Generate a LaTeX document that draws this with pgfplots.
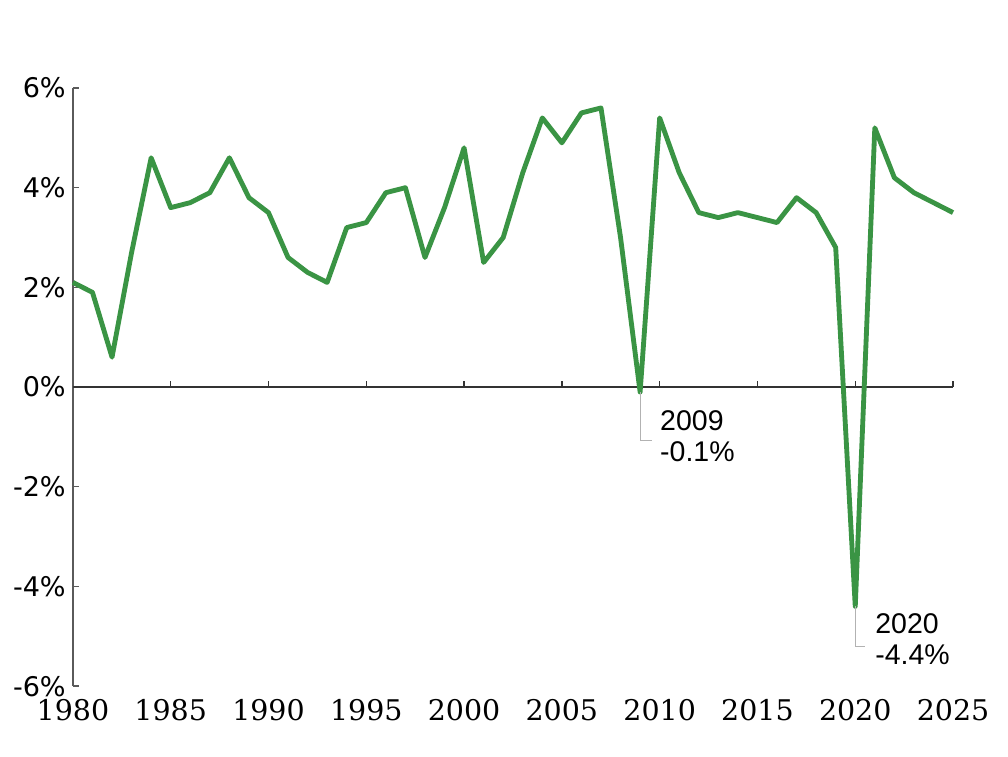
\documentclass[border=0pt]{standalone}
\usepackage{fontspec}
\setmainfont{DejaVu Serif}
\newfontfamily\ysans{DejaVu Sans}
\newfontfamily\annfont{Liberation Sans}
\usepackage{pgfplots}
\pgfplotsset{compat=1.18}
\definecolor{gdpgreen}{RGB}{58,148,68}
\definecolor{axisgray}{RGB}{90,90,90}

\begin{document}
\begin{tikzpicture}
\begin{axis}[
  name=main,
  scale only axis,
  width=309pt, height=210pt,
  xmin=1980, xmax=2025, ymin=-6, ymax=6,
  axis y line*=left,
  axis x line*=bottom,
  x axis line style={draw=none},
  y axis line style={axisgray, line width=0.5pt},
  xtick={1980,1985,...,2025},
  x tick style={draw=none},
  xticklabel style={font=\fontsize{10}{12}\selectfont, yshift=-1pt},
  ytick={-6,-4,...,6},
  yticklabels={-6\%,-4\%,-2\%,0\%,2\%,4\%,6\%},
  yticklabel style={font=\ysans\fontsize{9.5}{11}\selectfont, xshift=1pt},
  y tick style={axisgray, line width=0.5pt},
  tick align=inside, major tick length=2pt,
  /pgf/number format/assume math mode=true,
  /pgf/number format/1000 sep={},
  clip=false,
]
% zero line
\addplot[black!80, line width=0.7pt, mark=none, forget plot] coordinates {(1980,0) (2025,0)};

\addplot[gdpgreen, line width=1.7pt, line join=round, mark=none] coordinates {
  (1980,2.1) (1981,1.9) (1982,0.6) (1983,2.7) (1984,4.6)
  (1985,3.6) (1986,3.7) (1987,3.9) (1988,4.6) (1989,3.8)
  (1990,3.5) (1991,2.6) (1992,2.3) (1993,2.1) (1994,3.2)
  (1995,3.3) (1996,3.9) (1997,4.0) (1998,2.6) (1999,3.6)
  (2000,4.8) (2001,2.5) (2002,3.0) (2003,4.3) (2004,5.4)
  (2005,4.9) (2006,5.5) (2007,5.6) (2008,3.0) (2009,-0.1)
  (2010,5.4) (2011,4.3) (2012,3.5) (2013,3.4) (2014,3.5)
  (2015,3.4) (2016,3.3) (2017,3.8) (2018,3.5) (2019,2.8)
  (2020,-4.4) (2021,5.2) (2022,4.2) (2023,3.9) (2024,3.7)
  (2025,3.5)
};

% small ticks on the zero line
\draw[black!80, line width=0.5pt] (axis cs:1985,0) -- (axis cs:1985,0.12);
\draw[black!80, line width=0.5pt] (axis cs:1990,0) -- (axis cs:1990,0.12);
\draw[black!80, line width=0.5pt] (axis cs:1995,0) -- (axis cs:1995,0.12);
\draw[black!80, line width=0.5pt] (axis cs:2000,0) -- (axis cs:2000,0.12);
\draw[black!80, line width=0.5pt] (axis cs:2005,0) -- (axis cs:2005,0.12);
\draw[black!80, line width=0.5pt] (axis cs:2010,0) -- (axis cs:2010,0.12);
\draw[black!80, line width=0.5pt] (axis cs:2015,0) -- (axis cs:2015,0.12);
\draw[black!80, line width=0.5pt] (axis cs:2020,0) -- (axis cs:2020,0.12);
\draw[black!80, line width=0.5pt] (axis cs:2025,0) -- (axis cs:2025,0.12);

% callouts
\draw[gray!60, line width=0.4pt] (axis cs:2009,-0.1) -- (axis cs:2009,-1.08) -- (axis cs:2009.6,-1.08);
\node[anchor=west, align=left, inner sep=0pt, font=\annfont\fontsize{10}{11}\selectfont]
  at (axis cs:2010.0,-0.98) {2009\\-0.1\%};
\draw[gray!60, line width=0.4pt] (axis cs:2020,-4.4) -- (axis cs:2020,-5.2) -- (axis cs:2020.5,-5.2);
\node[anchor=west, align=left, inner sep=0pt, font=\annfont\fontsize{10}{11}\selectfont]
  at (axis cs:2021.0,-5.05) {2020\\-4.4\%};
\end{axis}
% keep the reference's margins
\coordinate (bbsw) at ([xshift=-25.6pt, yshift=-24.6pt]main.south west);
\coordinate (bbne) at ([xshift=19.3pt, yshift=30.9pt]main.north east);
\path (bbsw) rectangle (bbne);
\end{tikzpicture}
\end{document}
